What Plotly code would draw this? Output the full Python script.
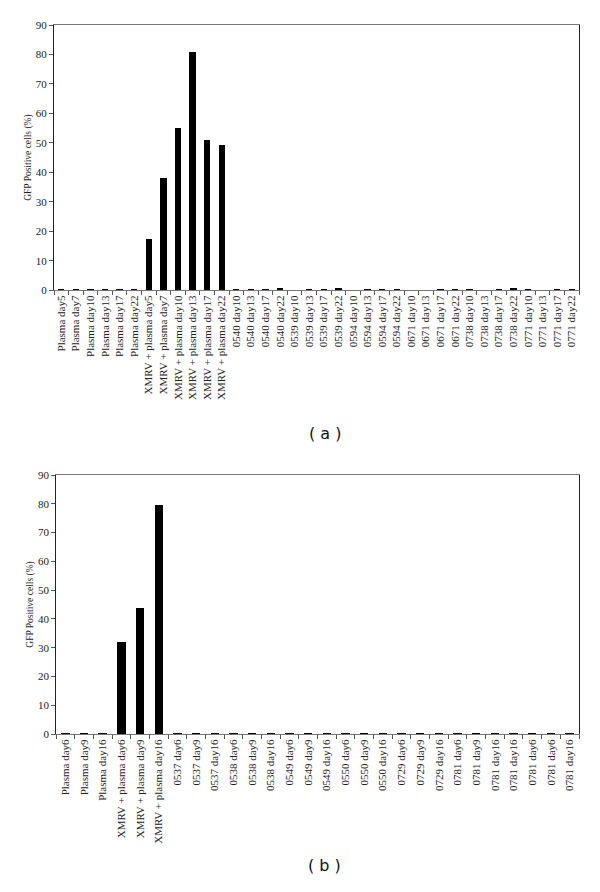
import plotly.graph_objects as go
from plotly.subplots import make_subplots

# panel (a)
labels_a = [
    "Plasma day5", "Plasma day7", "Plasma day10", "Plasma day13", "Plasma day17", "Plasma day22",
    "XMRV + plasma day5", "XMRV + plasma day7", "XMRV + plasma day10", "XMRV + plasma day13",
    "XMRV + plasma day17", "XMRV + plasma day22",
    "0540 day10", "0540 day13", "0540 day17", "0540 day22",
    "0539 day10", "0539 day13", "0539 day17", "0539 day22",
    "0594 day10", "0594 day13", "0594 day17", "0594 day22",
    "0671 day10", "0671 day13", "0671 day17", "0671 day22",
    "0738 day10", "0738 day13", "0738 day17", "0738 day22",
    "0771 day10", "0771 day13", "0771 day17", "0771 day22",
]
values_a = [
    0.3, 0.3, 0.3, 0.3, 0.3, 0.3,
    17.3, 38.2, 55.0, 81.0, 51.0, 49.2,
    0.3, 0.3, 0.3, 0.6,
    0.0, 0.3, 0.3, 0.6,
    0.0, 0.3, 0.3, 0.3,
    0.0, 0.0, 0.3, 0.3,
    0.3, 0.0, 0.3, 0.6,
    0.3, 0.0, 0.3, 0.3,
]

# panel (b)
labels_b = [
    "Plasma day6", "Plasma day9", "Plasma day16",
    "XMRV + plasma day6", "XMRV + plasma day9", "XMRV + plasma day16",
    "0537 day6", "0537 day9", "0537 day16",
    "0538 day6", "0538 day9", "0538 day16",
    "0549 day6", "0549 day9", "0549 day16",
    "0550 day6", "0550 day9", "0550 day16",
    "0729 day6", "0729 day9", "0729 day16",
    "0781 day6", "0781 day9", "0781 day16", "0781 day16", "0781 day6", "0781 day6", "0781 day16",
]
values_b = [
    0.3, 0.3, 0.3,
    32.0, 43.7, 79.5,
    0.3, 0.3, 0.3,
    0.3, 0.3, 0.3,
    0.3, 0.3, 0.3,
    0.3, 0.3, 0.3,
    0.3, 0.3, 0.3,
    0.3, 0.3, 0.3, 0.3, 0.3, 0.3, 0.3,
]

serif = "Liberation Serif, Times New Roman, serif"

fig = make_subplots(rows=2, cols=1)

panels = [(labels_a, values_a, 0.43), (labels_b, values_b, 0.45)]
for row, (labels, values, bw) in enumerate(panels, start=1):
    pos = list(range(len(labels)))
    fig.add_trace(go.Bar(x=pos, y=values, width=bw,
                         marker=dict(color="black", line=dict(width=0)),
                         showlegend=False), row=row, col=1)
    fig.update_xaxes(
        range=[-0.5, len(labels) - 0.5],
        tickvals=pos, ticktext=labels, tickangle=-90,
        ticks="", showgrid=False, zeroline=False, automargin=False,
        showline=True, linecolor="#777", linewidth=1, mirror=True,
        minor=dict(tickvals=[p - 0.5 for p in range(len(labels) + 1)],
                   ticks="outside", ticklen=4, tickcolor="#555", showgrid=False),
        tickfont=dict(family=serif, size=11, color="#222"),
        row=row, col=1)
    fig.update_yaxes(
        range=[0, 90], dtick=10, ticks="outside", ticklen=4, tickcolor="#555",
        showgrid=False, zeroline=False, automargin=False,
        showline=True, linecolor="#222", linewidth=1, mirror=True,
        tickfont=dict(family=serif, size=11, color="#222"),
        title=dict(text="GFP Positive cells (%)", standoff=2,
                   font=dict(family=serif, size=9.5, color="#222")),
        row=row, col=1)

# the page body adds an 8px offset, so margins are set 8px smaller on top/left
fig.update_layout(
    width=600, height=892,
    margin=dict(l=46, r=29, t=17, b=166),
    plot_bgcolor="white", paper_bgcolor="white",
    bargap=0,
    xaxis=dict(domain=[0, 1]),
    yaxis=dict(domain=[0.626, 1.0]),
    xaxis2=dict(domain=[0.004, 1]),
    yaxis2=dict(domain=[0.0, 0.3653]),
    annotations=[
        dict(text="( a )", x=0.516, y=0.4245, xref="paper", yref="paper",
             showarrow=False, font=dict(family="DejaVu Sans, Verdana, sans-serif", size=16, color="#111")),
        dict(text="( b )", x=0.516, y=-0.2017, xref="paper", yref="paper",
             showarrow=False, font=dict(family="DejaVu Sans, Verdana, sans-serif", size=16, color="#111")),
    ],
)

fig.write_html("out.html")
